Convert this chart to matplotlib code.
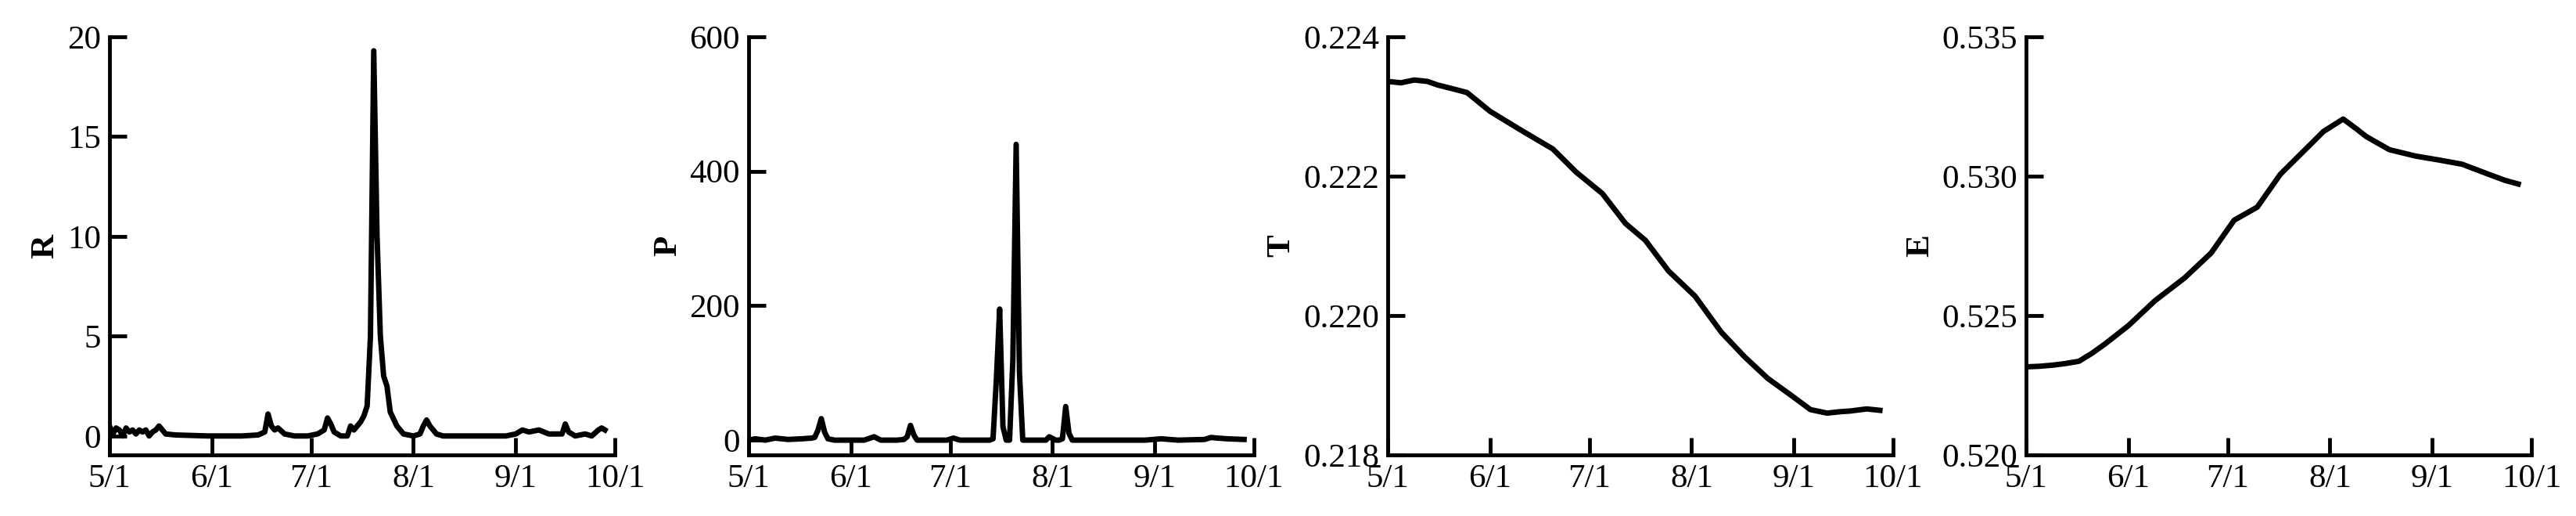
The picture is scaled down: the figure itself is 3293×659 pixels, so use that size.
import matplotlib
matplotlib.use("Agg")
import matplotlib.pyplot as plt
import numpy as np

plt.rcParams['font.family'] = ['Liberation Serif', 'DejaVu Serif']

xtick_labels = ["5/1", "6/1", "7/1", "8/1", "9/1", "10/1"]
xtick_days = [0, 31, 61, 92, 123, 153]

R_days = [0, 1, 2, 3, 4, 5, 6, 7, 8, 9, 10, 11, 12, 13, 14, 15, 17, 20, 30, 40, 45, 47, 48, 49, 50, 51, 53, 56, 60, 63, 65, 66, 67, 68, 70, 72, 73, 74, 76, 77, 78, 79, 80, 81, 82, 83, 84, 85, 87, 89, 92, 94, 95, 96, 97, 99, 101, 105, 115, 120, 123, 125, 127, 130, 133, 135, 137, 138, 139, 141, 144, 146, 148, 149, 150]
R_vals = [0.5, 0.1, 0.4, 0.3, 0.0, 0.4, 0.2, 0.3, 0.1, 0.3, 0.2, 0.3, 0.0, 0.2, 0.3, 0.5, 0.1, 0.05, 0.0, 0.0, 0.05, 0.2, 1.1, 0.5, 0.3, 0.4, 0.1, 0.0, 0.0, 0.1, 0.3, 0.9, 0.6, 0.2, 0.0, 0.0, 0.5, 0.3, 0.7, 1.0, 1.5, 5.0, 19.3, 10.0, 5.0, 3.0, 2.5, 1.2, 0.5, 0.1, 0.0, 0.1, 0.5, 0.8, 0.5, 0.1, 0.0, 0.0, 0.0, 0.0, 0.1, 0.3, 0.2, 0.3, 0.1, 0.1, 0.1, 0.6, 0.2, 0.0, 0.1, 0.0, 0.3, 0.4, 0.3]

P_days = [0, 2, 5, 8, 12, 16, 19, 20, 21, 22, 23, 24, 26, 30, 35, 38, 40, 45, 47, 48, 49, 50, 51, 55, 60, 62, 64, 70, 73, 74, 75, 76, 77, 78, 79, 80, 81, 82, 83, 85, 90, 91, 93, 94, 95, 96, 97, 98, 100, 110, 120, 125, 130, 138, 140, 142, 145, 150]
P_vals = [0, 2, 0, 3, 1, 2, 3, 4, 15, 32, 12, 2, 0, 0, 0, 5, 0, 0, 1, 5, 22, 8, 0, 0, 0, 3, 0, 0, 0, 2, 90, 195, 20, 0, 0, 120, 440, 100, 0, 0, 0, 5, 0, 0, 2, 50, 10, 0, 0, 0, 0, 2, 0, 1, 4, 3, 2, 1]

T_days = [0, 4, 8, 12, 15, 20, 24, 31, 40, 50, 57, 65, 72, 78, 85, 93, 101, 108, 115, 122, 128, 133, 137, 140, 145, 149]
T_vals = [0.22336, 0.22334, 0.22338, 0.22336, 0.22331, 0.22325, 0.2232, 0.22293, 0.22267, 0.22239, 0.22206, 0.22175, 0.22132, 0.22108, 0.22064, 0.22028, 0.21976, 0.21941, 0.2191, 0.21886, 0.21865, 0.2186, 0.21862, 0.21863, 0.21866, 0.21864]

E_days = [0, 4, 8, 12, 16, 20, 24, 31, 39, 48, 56, 63, 70, 77, 85, 90, 96, 100, 103, 110, 118, 125, 132, 140, 145, 149]
E_vals = [0.52316, 0.52318, 0.52322, 0.52328, 0.52336, 0.52365, 0.52399, 0.52464, 0.52553, 0.52635, 0.52724, 0.52842, 0.52889, 0.53007, 0.53101, 0.5316, 0.53205, 0.5317, 0.53142, 0.53095, 0.53072, 0.53058, 0.53043, 0.53007, 0.52985, 0.52972]

panels = [
    ("R", R_days, R_vals, (-0.95, 20), [0, 5, 10, 15, 20], "{:.0f}"),
    ("P", P_days, P_vals, (-22, 600), [0, 200, 400, 600], "{:.0f}"),
    ("T", T_days, T_vals, (0.218, 0.224), [0.218, 0.220, 0.222, 0.224], "{:.3f}"),
    ("E", E_days, E_vals, (0.520, 0.535), [0.520, 0.525, 0.530, 0.535], "{:.3f}"),
]

W, H = 3293, 659
fig = plt.figure(figsize=(W / 100, H / 100), dpi=100)
lefts = [140, 957, 1774, 2590]
width = 646
bottom, top = 581, 47

for (name, d, v, ylim, yt, fmt), l in zip(panels, lefts):
    ax = fig.add_axes([l / W, 1 - bottom / H, width / W, (bottom - top) / H])
    ax.plot(d, v, color="black", lw=5)
    ax.set_xlim(0, 153)
    ax.set_ylim(*ylim)
    ax.set_xticks(xtick_days)
    ax.set_xticklabels(xtick_labels)
    ax.set_yticks(yt)
    ax.set_yticklabels([fmt.format(t) for t in yt])
    for s in ["top", "right"]:
        ax.spines[s].set_visible(False)
    for s in ["left", "bottom"]:
        ax.spines[s].set_linewidth(3.5)
    ax.tick_params(direction="in", length=16, width=3.5, labelsize=31, pad=8)
    ax.set_ylabel(name, fontsize=31, fontweight="bold", labelpad=6)

fig.savefig("out.png", dpi=100)
